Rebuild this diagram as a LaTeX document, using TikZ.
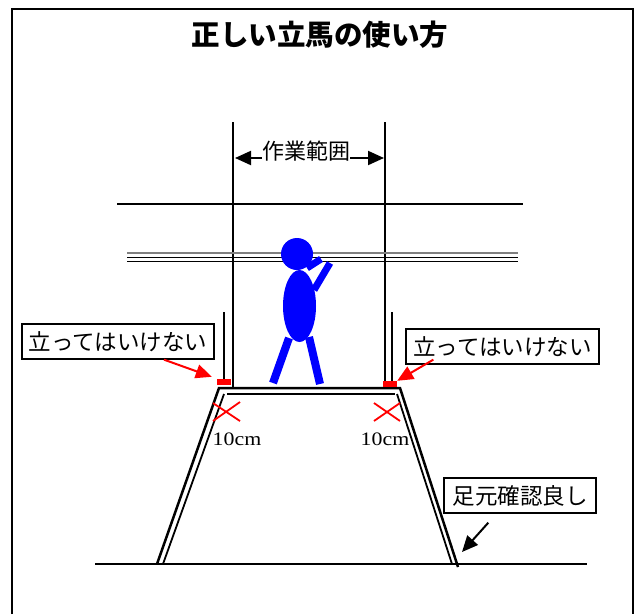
\documentclass[tikz,border=0pt]{standalone}
\usepackage{fontspec}
\setmainfont{Liberation Serif}
\newfontfamily\jp{Noto Sans CJK JP}
\usetikzlibrary{arrows.meta}
\begin{document}
\begin{tikzpicture}[x=1pt,y=-1pt,
  frameline/.style={line width=2.5pt},
  guide/.style={line width=1.3pt},
  labelbox/.style={draw, line width=1.3pt, inner sep=0pt, fill=white,
    font=\jp\fontsize{22.5}{22.5}\selectfont, minimum height=35pt},
  redblock/.style={fill=red, inner sep=0pt, minimum width=14pt, minimum height=6pt},
  redarrow/.style={draw=red, line width=2pt, -{Triangle[length=16pt,width=14pt]}, red},
  blackarrow/.style={line width=2pt, -{Triangle[length=16pt,width=14pt]}},
  crossmark/.style={draw=red, line width=1.8pt},
  leg/.style={line width=1.8pt},
  body/.style={blue, line width=8pt}
]
\useasboundingbox (0,0) rectangle (635,614);
\fill[white] (0,0) rectangle (635,614);

% outer frame (open at the bottom)
\draw[frameline] (12,614) -- (12,9) -- (633,9) -- (633,614);

% title
\node[font=\jp\bfseries\fontsize{28.5}{28.5}\selectfont] (title) at (320,35) {正しい立馬の使い方};

% working range guides
\coordinate (wlt) at (233,122); \coordinate (wlb) at (233,388);
\coordinate (wrt) at (385,122); \coordinate (wrb) at (385,388);
\draw[guide] (wlt) -- (wlb);
\draw[guide] (wrt) -- (wrb);
\node[font=\jp\fontsize{22}{22}\selectfont, inner sep=0pt] (range) at (306,151) {作業範囲};
\coordinate (rangeL) at (235,158);
\coordinate (rangeR) at (384,158);
\draw[blackarrow] ([yshift=-7pt]range.west) -- (rangeL);
\draw[blackarrow] ([yshift=-7pt]range.east) -- (rangeR);

% overhead beam and pipe rail
\coordinate (beamL) at (117,204); \coordinate (beamR) at (523,204);
\draw[line width=1.8pt] (beamL) -- (beamR);
\coordinate (railL) at (127,253); \coordinate (railR) at (518,253);
\draw[gray, line width=1.2pt] (railL) -- (railR);
\draw[line width=1pt] ([yshift=-4pt]railL) -- ([yshift=-4pt]railR);
\draw[line width=1pt] ([yshift=-8pt]railL) -- ([yshift=-8pt]railR);

% end posts of the trestle
\draw[guide] (224,312) -- (224,380);
\draw[guide] (392,312) -- (392,382);

% worker
\fill[blue] (297,254) circle (16pt);
\fill[blue] (299.5,306) ellipse (16.5pt and 36pt);
\draw[body] (289,338) -- (273,383);
\draw[body] (309,337) -- (320,384);
\draw[body, line width=7pt] (307,268) -- (321,259);
\draw[body, line width=7pt] (314,290) -- (330,263);

% trestle
\draw[leg, line width=2.5pt] (157,564) -- (219,388) -- (400,388) -- (458,567);
\draw[leg] (163,564) -- (224,394);
\draw[leg] (227,394) -- (395,394);
\draw[leg] (397,394) -- (452,564);

% ground
\draw[line width=2pt] (95,564) -- (587,564);

% forbidden standing spots
\node[redblock] (lred) at (224,382) {};
\node[redblock] (rred) at (390,384) {};

% 10 cm marks
\draw[crossmark] (213,403) -- (240,421) (213,421) -- (240,402);
\draw[crossmark] (374,403) -- (400,421) (374,421) -- (400,403);
\node[font=\fontsize{19}{19}\selectfont, xscale=1.15, inner sep=0pt] (cmL) at (237,439) {10cm};
\node[font=\fontsize{19}{19}\selectfont, xscale=1.15, inner sep=0pt] (cmR) at (385,439) {10cm};

% callouts
\node[labelbox, minimum width=192pt] (lbox) at (118,341.5) {立ってはいけない};
\node[labelbox, minimum width=193pt] (rbox) at (502.5,346.5) {立ってはいけない};
\node[labelbox, minimum width=152pt] (fbox) at (520,495.5) {足元確認良し};

\draw[redarrow] ([xshift=46pt]lbox.south) -- ([xshift=-5pt,yshift=2pt]lred.north west);
\draw[redarrow] ([xshift=28pt,yshift=5pt]rbox.south west) -- (rred.north east);
\coordinate (foot) at (462,552);
\draw[blackarrow] ([xshift=45pt,yshift=-9pt]fbox.south west) -- (foot);
\end{tikzpicture}
\end{document}
